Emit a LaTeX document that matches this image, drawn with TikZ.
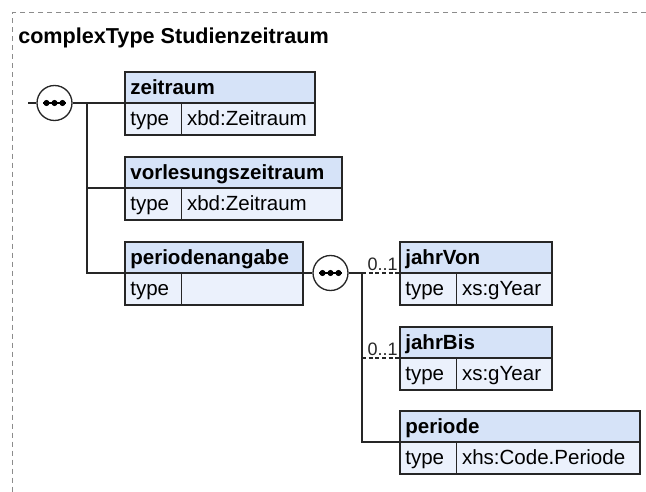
\documentclass[tikz,border=0pt]{standalone}
\usepackage{fontspec}
\setmainfont{Liberation Sans}
\usepackage{xcolor}
\usepackage{tikz}
\usetikzlibrary{positioning, calc}
\definecolor{kopfblau}{RGB}{214,227,248}
\definecolor{zeilenblau}{RGB}{235,241,252}
\definecolor{rahmengrau}{RGB}{140,140,140}
\newcommand{\elfont}{\fontsize{15.4pt}{18pt}\selectfont}
\tikzset{
  kopf/.style={draw=black!85, fill=kopfblau, line width=1pt, anchor=north west, outer sep=0pt,
    minimum height=23.25pt, inner xsep=4pt, inner ysep=1pt, text height=11.5pt, text depth=1.75pt,
    align=left, font=\elfont\bfseries},
  typ/.style={draw=black!85, fill=zeilenblau, line width=1pt, anchor=north west, outer sep=0pt,
    minimum height=24pt, inner xsep=4pt, inner ysep=1pt, text height=11.5pt, text depth=1.75pt,
    align=left, text width=34.5pt, font=\elfont},
  wert/.style={typ, text width=#1},
  seq/.style={circle, draw=black!85, fill=white, line width=1pt, minimum size=26.25pt, inner sep=0pt,
    path picture={
      \draw[black, line width=1.1pt] ([xshift=-8.5pt]path picture bounding box.center) -- ([xshift=8.5pt]path picture bounding box.center);
      \foreach \dx in {-6pt,0pt,6pt}
        \fill[black] ([xshift=\dx]path picture bounding box.center) circle (2.3pt);
    }},
  conn/.style={line width=1pt, black!85},
  opt/.style={conn, dash pattern=on 3pt off 2pt},
  card/.style={anchor=south east, inner sep=1.2pt, font=\fontsize{13.5pt}{15pt}\selectfont},
}
\tikzstyle{rahmen} = [rahmengrau, line width=0.75pt, dash pattern=on 3.75pt off 3pt]

\begin{document}
\begin{tikzpicture}[x=0.75pt, y=-0.75pt]
  \useasboundingbox (0,0) rectangle (646,492);
  \draw[rahmen] (646,13) -- (12.5,13) -- (12.5,492);
  \node[anchor=base west, inner sep=0pt, font=\fontsize{16.2pt}{19pt}\selectfont\bfseries] (titel) at (18,44) {complexType Studienzeitraum};

  % erste Sequenz
  \node[seq] (seqA) at (54.5,103) {};
  \node[kopf, text width=134.5pt] (zeitraum) at (125,72) {zeitraum};
  \node[typ] (zeitraumTyp) at (zeitraum.south west) {type};
  \node[wert=92pt, right=0pt of zeitraumTyp] (zeitraumWert) {xbd:Zeitraum};

  \node[kopf, text width=154.75pt] (vorlesungszeitraum) at (125,157) {vorlesungszeitraum};
  \node[typ] (vorlesungszeitraumTyp) at (vorlesungszeitraum.south west) {type};
  \node[wert=112.25pt, right=0pt of vorlesungszeitraumTyp] (vorlesungszeitraumWert) {xbd:Zeitraum};

  \node[kopf, text width=125.5pt] (periodenangabe) at (125,242) {periodenangabe};
  \node[typ] (periodenangabeTyp) at (periodenangabe.south west) {type};
  \node[wert=83pt, right=0pt of periodenangabeTyp] (periodenangabeWert) {};

  % zweite Sequenz
  \node[seq] (seqB) at (330.5,273) {};
  \node[kopf, text width=106pt] (jahrVon) at (400,242) {jahrVon};
  \node[typ] (jahrVonTyp) at (jahrVon.south west) {type};
  \node[wert=63.5pt, right=0pt of jahrVonTyp] (jahrVonWert) {xs:gYear};

  \node[kopf, text width=106pt] (jahrBis) at (400,327) {jahrBis};
  \node[typ] (jahrBisTyp) at (jahrBis.south west) {type};
  \node[wert=63.5pt, right=0pt of jahrBisTyp] (jahrBisWert) {xs:gYear};

  \node[kopf, text width=172pt] (periode) at (400,411) {periode};
  \node[typ] (periodeTyp) at (periode.south west) {type};
  \node[wert=129.5pt, right=0pt of periodeTyp] (periodeWert) {xhs:Code.Periode};

  % Verbindungen
  \coordinate (eingang) at (28,103);
  \coordinate (astA) at (87,103);
  \coordinate (astB) at (362,273);
  \draw[conn] (eingang) -- (seqA);
  \draw[conn] (seqA) -- (zeitraum.south west);
  \draw[conn] (astA) |- (periodenangabe.south west);
  \draw[conn] (astA |- vorlesungszeitraum.south west) -- (vorlesungszeitraum.south west);
  \draw[conn] (periodenangabe.south east) -- (seqB);
  \draw[conn] (seqB) -- (astB);
  \draw[conn] (astB) |- (periode.south west);
  \draw[opt] (astB) -- (jahrVon.south west) node[card] {0..1};
  \draw[opt] (astB |- jahrBis.south west) -- (jahrBis.south west) node[card] {0..1};
\end{tikzpicture}
\end{document}
